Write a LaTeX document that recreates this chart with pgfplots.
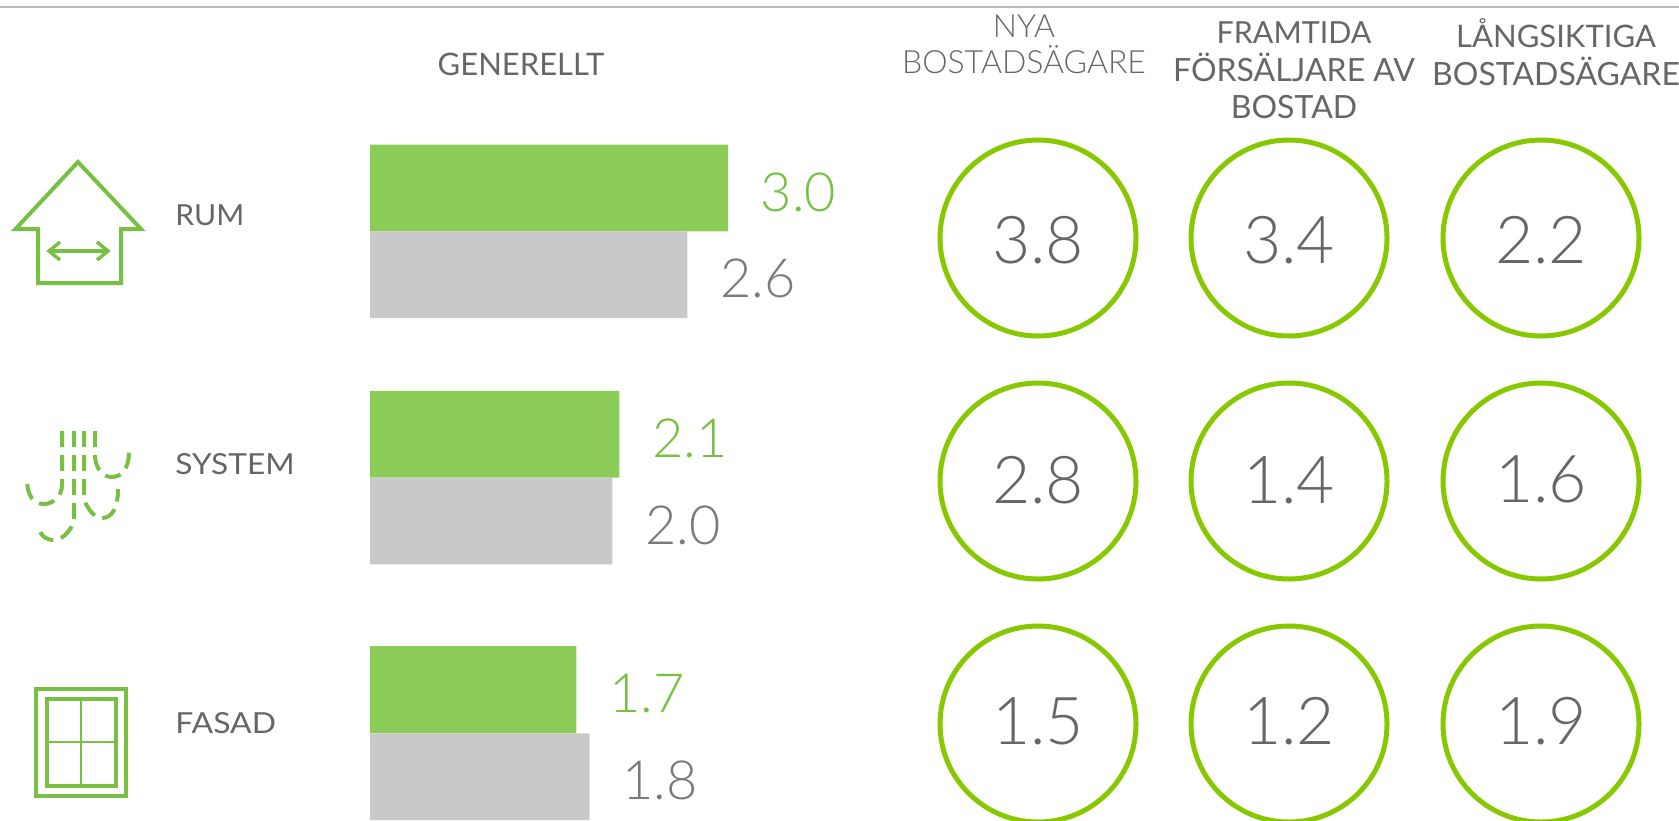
\documentclass[border=0pt]{standalone}
\usepackage{fontspec}
\usepackage{pgfplots}
\pgfplotsset{compat=1.18}
\setmainfont{Lato}[UprightFont=* Light,BoldFont=* Regular]
\newfontfamily\reg{Lato}
\definecolor{barg}{HTML}{8BCB57}
\definecolor{barh}{HTML}{C9C9C9}
\definecolor{ring}{HTML}{88C800}
\definecolor{ico}{HTML}{77C043}
\definecolor{lab}{HTML}{666666}
\definecolor{lgray}{HTML}{7A7A7A}
\pgfplotsset{
  ringplot/.style={only marks,mark=*,mark size=49pt,mark options={draw=ring,fill=white,line width=2.5pt},
    point meta=explicit symbolic,nodes near coords,
    every node near coord/.style={anchor=center,inner sep=0pt,yshift=#1,font=\fontsize{33}{33}\selectfont,text=lab}}}
\begin{document}
\begin{tikzpicture}
\path[use as bounding box] (0,0) rectangle (839.5pt,410pt);
% bars
\begin{axis}[at={(0,0)},anchor=south west,scale only axis,width=839.5pt,height=410pt,
  hide axis,xmin=-3.1006,xmax=10.9695,ymin=0,ymax=820,y dir=reverse,clip=false]
\addplot[xbar,bar shift=0pt,bar width=43.4pt,fill=barg,draw=none,
  point meta=explicit symbolic,nodes near coords,
  every node near coord/.style={anchor=west,inner sep=0pt,xshift=16.2pt,yshift=-2pt,font=\fontsize{27}{27}\selectfont,text=ico}]
  coordinates {(3.0,188)[3.0] (2.09,434.3)[2.1] (1.73,689.6)[1.7]};
\addplot[xbar,bar shift=0pt,bar width=43.4pt,fill=barh,draw=none,
  point meta=explicit symbolic,nodes near coords,
  every node near coord/.style={anchor=west,inner sep=0pt,xshift=16.2pt,yshift=-2pt,font=\fontsize{27}{27}\selectfont,text=lgray}]
  coordinates {(2.66,274.7)[2.6] (2.03,521)[2.0] (1.84,776.8)[1.8]};
\end{axis}
% circles, text, icons in pixel coordinates
\begin{axis}[at={(0,0)},anchor=south west,scale only axis,width=839.5pt,height=410pt,
  hide axis,xmin=0,xmax=1679,ymin=0,ymax=820,y dir=reverse,clip=true]
\addplot[ringplot=-1pt] coordinates {(1038,238)[3.8] (1289,238)[3.4] (1541,238)[2.2]};
\addplot[ringplot=0.6pt] coordinates {(1038,481)[2.8] (1289,481)[1.4] (1541,481)[1.6]};
\addplot[ringplot=1.2pt] coordinates {(1038,724)[1.5] (1289,724)[1.2] (1541,724)[1.9]};
\draw[color=barh!80!gray,line width=1pt] (0,7) -- (1679,7);
% headers
\node[text=lab,font=\fontsize{15.5}{15.5}\reg] at (521,64) {GENERELLT};
\node[text=lab,font=\fontsize{16}{16}\selectfont] at (1024,26) {NYA};
\node[text=lab,font=\fontsize{16}{16}\selectfont] at (1024,60) {BOSTADSÄGARE};
\node[text=lab,font=\fontsize{15.2}{15.2}\reg] at (1294,33) {FRAMTIDA};
\node[text=lab,font=\fontsize{16}{16}\reg] at (1294,67) {FÖRSÄLJARE AV};
\node[text=lab,font=\fontsize{16}{16}\reg] at (1294,107) {BOSTAD};
\node[text=lab,font=\fontsize{15.5}{15.5}\reg] at (1556,33) {LÅNGSIKTIGA};
\node[text=lab,font=\fontsize{16}{16}\reg] at (1556,71) {BOSTADSÄGARE};
% row labels
\node[anchor=west,inner sep=0pt,text=lab,font=\fontsize{14.5}{14.5}\reg,xscale=1.04] at (175,215) {RUM};
\node[anchor=west,inner sep=0pt,text=lab,font=\fontsize{14.5}{14.5}\reg,xscale=1.09] at (175,464) {SYSTEM};
\node[anchor=west,inner sep=0pt,text=lab,font=\fontsize{14.5}{14.5}\reg,xscale=1.1] at (175,723) {FASAD};
% house icon
\draw[color=ico,line width=2pt,miter limit=10] (38,283) -- (38,229) -- (15.5,229) -- (78,162) -- (141,229) -- (121,229) -- (121,283) -- cycle;
\draw[color=ico,line width=1.7pt] (51,251) -- (106,251);
\draw[color=ico,line width=1.7pt] (60,242) -- (49,251) -- (60,260);
\draw[color=ico,line width=1.7pt] (97,242) -- (108,251) -- (97,260);
% system icon
\begin{scope}[color=ico,line width=2pt,dash pattern=on 8pt off 4pt]
\draw (62,431) -- (62,485) .. controls (62,497) and (52,504) .. (44,504) .. controls (34,504) and (27,497) .. (27,478);
\draw (74,431) -- (74,522) .. controls (68,535) and (60,540) .. (54,540) .. controls (46,540) and (39,535) .. (39,526);
\draw (84,431) -- (84,500) .. controls (90,513) and (96,518) .. (102,518) .. controls (112,518) and (118,508) .. (118,489);
\draw (95,431) -- (95,458) .. controls (97,471) and (104,477) .. (112,477) .. controls (122,477) and (129,468) .. (129,452);
\end{scope}
% window icon
\draw[color=ico,line width=1.6pt] (36,689) rectangle (126,796);
\draw[color=ico,line width=1.8pt] (47,699) rectangle (116,786);
\draw[color=ico,line width=1.2pt] (81,699) -- (81,786) (47,742) -- (116,742);
\end{axis}
\end{tikzpicture}
\end{document}
